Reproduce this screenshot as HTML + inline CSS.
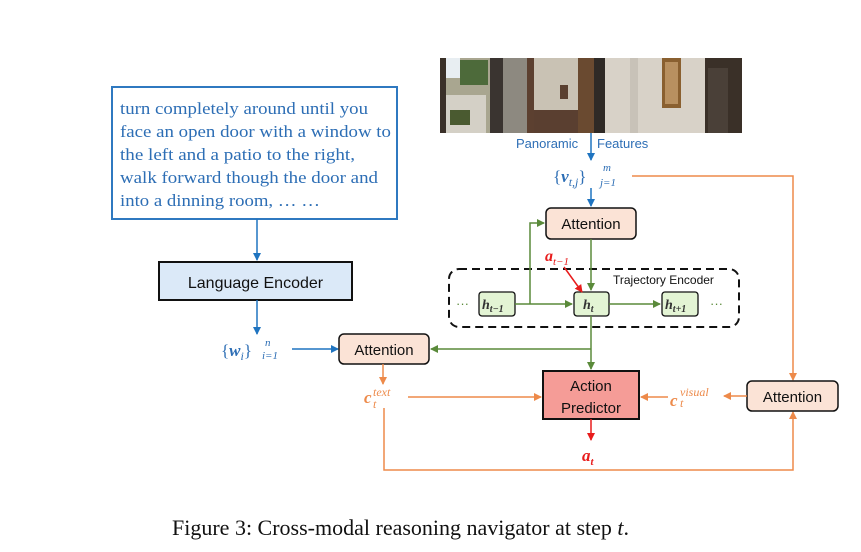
<!DOCTYPE html>
<html><head><meta charset="utf-8"><style>
html,body{margin:0;padding:0;background:#fff;}
svg{display:block;}
.sans{font-family:"Liberation Sans","DejaVu Sans",sans-serif;}
.serif{font-family:"Liberation Serif",serif;}
</style></head><body>
<svg width="861" height="552" viewBox="0 0 861 552" xmlns="http://www.w3.org/2000/svg">
<defs>
<marker id="ab" markerWidth="8" markerHeight="8" refX="7" refY="4" orient="auto" markerUnits="userSpaceOnUse"><path d="M0,0 L8,4 L0,8 z" fill="#1f74c0"/></marker>
<marker id="ag" markerWidth="8" markerHeight="8" refX="7" refY="4" orient="auto" markerUnits="userSpaceOnUse"><path d="M0,0 L8,4 L0,8 z" fill="#5a8a3a"/></marker>
<marker id="ao" markerWidth="8" markerHeight="8" refX="7" refY="4" orient="auto" markerUnits="userSpaceOnUse"><path d="M0,0 L8,4 L0,8 z" fill="#ed8a4a"/></marker>
<marker id="ar" markerWidth="8" markerHeight="8" refX="7" refY="4" orient="auto" markerUnits="userSpaceOnUse"><path d="M0,0 L8,4 L0,8 z" fill="#e81c1c"/></marker>
</defs>

<!-- instruction box -->
<rect x="112" y="87" width="285" height="132" fill="#fff" stroke="#2f79c0" stroke-width="2"/>
<g class="serif" font-size="17" fill="#2d6eb5">
<text x="120" y="114" textLength="248" lengthAdjust="spacingAndGlyphs">turn completely around until you</text>
<text x="120" y="137" textLength="271" lengthAdjust="spacingAndGlyphs">face an open door with a window to</text>
<text x="120" y="160" textLength="235" lengthAdjust="spacingAndGlyphs">the left and a patio to the right,</text>
<text x="120" y="183" textLength="258" lengthAdjust="spacingAndGlyphs">walk forward though the door and</text>
<text x="120" y="206" textLength="200" lengthAdjust="spacingAndGlyphs">into a dinning room, … …</text>
</g>
<line x1="257" y1="219" x2="257" y2="260" stroke="#1f74c0" stroke-width="1.5" marker-end="url(#ab)"/>

<!-- language encoder -->
<rect x="159" y="262" width="193" height="38" fill="#dbe9f8" stroke="#111" stroke-width="2"/>
<text x="255.5" y="288" class="sans" font-size="16" text-anchor="middle" fill="#111">Language Encoder</text>
<line x1="257" y1="300" x2="257" y2="334" stroke="#1f74c0" stroke-width="1.5" marker-end="url(#ab)"/>
<text x="221" y="356" class="serif" font-size="17" fill="#2d6eb5">{<tspan font-weight="bold" font-style="italic">w</tspan><tspan font-style="italic" font-size="12" dy="4">i</tspan><tspan dy="-4">}</tspan></text>
<text x="265" y="346" class="serif" font-size="11" font-style="italic" fill="#2d6eb5">n</text>
<text x="262" y="359" class="serif" font-size="11" font-style="italic" fill="#2d6eb5">i=1</text>
<line x1="292" y1="349" x2="338" y2="349" stroke="#1f74c0" stroke-width="1.5" marker-end="url(#ab)"/>

<!-- left attention -->
<rect x="339" y="334" width="90" height="30" rx="5" fill="#fbe3d6" stroke="#111" stroke-width="1.5"/>
<text x="384" y="355" class="sans" font-size="15" text-anchor="middle" fill="#111">Attention</text>

<!-- panorama -->
<g>
<rect x="440" y="58" width="302" height="75" fill="#8a7a68"/>
<rect x="440" y="58" width="6" height="75" fill="#3a3028"/>
<rect x="446" y="58" width="44" height="75" fill="#a9a690"/>
<rect x="446" y="58" width="14" height="20" fill="#e8eef2"/>
<rect x="460" y="60" width="28" height="25" fill="#4d6a3a"/>
<rect x="446" y="95" width="40" height="38" fill="#d4d0c6"/>
<rect x="450" y="110" width="20" height="15" fill="#4a5a30"/>
<rect x="490" y="58" width="13" height="75" fill="#3a3430"/>
<rect x="503" y="58" width="24" height="75" fill="#8d8980"/>
<rect x="527" y="58" width="7" height="75" fill="#5c4030"/>
<rect x="534" y="58" width="44" height="75" fill="#c9c2b4"/>
<rect x="534" y="110" width="44" height="23" fill="#5a3f30"/>
<rect x="560" y="85" width="8" height="14" fill="#5a4030"/>
<rect x="578" y="58" width="16" height="75" fill="#6a4a30"/>
<rect x="594" y="58" width="11" height="75" fill="#2f2a26"/>
<rect x="605" y="58" width="100" height="75" fill="#d8d2c8"/>
<rect x="630" y="58" width="8" height="75" fill="#c8c2b8"/>
<rect x="662" y="58" width="19" height="50" fill="#8a6030"/>
<rect x="665" y="62" width="13" height="42" fill="#b89060"/>
<rect x="705" y="58" width="37" height="75" fill="#3a3028"/>
<rect x="708" y="68" width="20" height="65" fill="#4a4038"/>
</g>
<text x="516" y="148" class="sans" font-size="13" fill="#2d6eb5">Panoramic</text>
<text x="597" y="148" class="sans" font-size="13" fill="#2d6eb5">Features</text>
<line x1="591" y1="133" x2="591" y2="160" stroke="#1f74c0" stroke-width="1.5" marker-end="url(#ab)"/>
<text x="553" y="182" class="serif" font-size="17" fill="#2d6eb5">{<tspan font-weight="bold" font-style="italic">v</tspan><tspan font-style="italic" font-size="12" dy="4">t,j</tspan><tspan dy="-4">}</tspan></text>
<text x="603" y="171" class="serif" font-size="11" font-style="italic" fill="#2d6eb5">m</text>
<text x="600" y="186" class="serif" font-size="11" font-style="italic" fill="#2d6eb5">j=1</text>
<polyline points="632,176 793,176 793,380" fill="none" stroke="#ed8a4a" stroke-width="1.5" marker-end="url(#ao)"/>
<line x1="591" y1="188" x2="591" y2="206" stroke="#1f74c0" stroke-width="1.5" marker-end="url(#ab)"/>

<!-- top attention -->
<rect x="546" y="208" width="90" height="31" rx="5" fill="#fbe3d6" stroke="#111" stroke-width="1.5"/>
<text x="591" y="229" class="sans" font-size="15" text-anchor="middle" fill="#111">Attention</text>

<!-- trajectory encoder -->
<rect x="449" y="269" width="290" height="58" rx="10" fill="none" stroke="#111" stroke-width="2" stroke-dasharray="8,5"/>
<text x="613" y="284" class="sans" font-size="12" fill="#111">Trajectory Encoder</text>
<text x="456" y="308" class="sans" font-size="13" fill="#5a8a3a">···</text>
<text x="710" y="308" class="sans" font-size="13" fill="#5a8a3a">···</text>
<rect x="479" y="292" width="36" height="24" rx="3" fill="#e3f4d4" stroke="#111" stroke-width="1.3"/>
<rect x="574" y="292" width="35" height="24" rx="3" fill="#e3f4d4" stroke="#111" stroke-width="1.3"/>
<rect x="662" y="292" width="36" height="24" rx="3" fill="#e3f4d4" stroke="#111" stroke-width="1.3"/>
<text x="482" y="309" class="serif" font-size="14" font-weight="bold" font-style="italic" fill="#333">h<tspan font-size="10" dy="3">t−1</tspan></text>
<text x="583" y="309" class="serif" font-size="14" font-weight="bold" font-style="italic" fill="#333">h<tspan font-size="10" dy="3">t</tspan></text>
<text x="665" y="309" class="serif" font-size="14" font-weight="bold" font-style="italic" fill="#333">h<tspan font-size="10" dy="3">t+1</tspan></text>
<line x1="515" y1="304" x2="572" y2="304" stroke="#5a8a3a" stroke-width="1.5" marker-end="url(#ag)"/>
<line x1="609" y1="304" x2="660" y2="304" stroke="#5a8a3a" stroke-width="1.5" marker-end="url(#ag)"/>
<polyline points="530,304 530,223 544,223" fill="none" stroke="#5a8a3a" stroke-width="1.5" marker-end="url(#ag)"/>
<line x1="591" y1="239" x2="591" y2="290" stroke="#5a8a3a" stroke-width="1.5" marker-end="url(#ag)"/>
<text x="545" y="261" class="serif" font-size="16" font-weight="bold" font-style="italic" fill="#e81c1c">a<tspan font-size="11" font-weight="normal" dy="4">t−1</tspan></text>
<line x1="564" y1="267" x2="582" y2="292" stroke="#e81c1c" stroke-width="1.5" marker-end="url(#ar)"/>
<line x1="591" y1="316" x2="591" y2="369" stroke="#5a8a3a" stroke-width="1.5" marker-end="url(#ag)"/>
<line x1="591" y1="349" x2="431" y2="349" stroke="#5a8a3a" stroke-width="1.5" marker-end="url(#ag)"/>

<!-- action predictor -->
<rect x="543" y="371" width="96" height="48" fill="#f59c97" stroke="#111" stroke-width="2"/>
<text x="591" y="391" class="sans" font-size="15" text-anchor="middle" fill="#111">Action</text>
<text x="591" y="413" class="sans" font-size="15" text-anchor="middle" fill="#111">Predictor</text>
<line x1="591" y1="419" x2="591" y2="440" stroke="#e81c1c" stroke-width="1.5" marker-end="url(#ar)"/>
<text x="582" y="461" class="serif" font-size="17" font-weight="bold" font-style="italic" fill="#e81c1c">a<tspan font-size="11" dy="4">t</tspan></text>

<!-- text context -->
<line x1="383" y1="364" x2="383" y2="384" stroke="#ed8a4a" stroke-width="1.5" marker-end="url(#ao)"/>
<text x="364" y="403" class="serif" font-size="17" font-weight="bold" font-style="italic" fill="#ed8a4a">c</text>
<text x="373" y="396" class="serif" font-size="12" font-style="italic" fill="#ed8a4a">text</text>
<text x="373" y="408" class="serif" font-size="12" font-style="italic" fill="#ed8a4a">t</text>
<line x1="408" y1="397" x2="541" y2="397" stroke="#ed8a4a" stroke-width="1.5" marker-end="url(#ao)"/>
<polyline points="384,408 384,470 793,470 793,412" fill="none" stroke="#ed8a4a" stroke-width="1.5" marker-end="url(#ao)"/>

<!-- right attention -->
<rect x="747" y="381" width="91" height="30" rx="5" fill="#fbe3d6" stroke="#111" stroke-width="1.5"/>
<text x="792.5" y="402" class="sans" font-size="15" text-anchor="middle" fill="#111">Attention</text>
<line x1="747" y1="396" x2="724" y2="396" stroke="#ed8a4a" stroke-width="1.5" marker-end="url(#ao)"/>
<text x="670" y="406" class="serif" font-size="17" font-weight="bold" font-style="italic" fill="#ed8a4a">c</text>
<text x="680" y="396" class="serif" font-size="12" font-style="italic" fill="#ed8a4a">visual</text>
<text x="680" y="407" class="serif" font-size="12" font-style="italic" fill="#ed8a4a">t</text>
<line x1="668" y1="397" x2="641" y2="397" stroke="#ed8a4a" stroke-width="1.5" marker-end="url(#ao)"/>

<!-- caption -->
<text x="172" y="535" class="serif" font-size="22" fill="#111">Figure 3: Cross-modal reasoning navigator at step <tspan font-style="italic">t</tspan>.</text>
</svg>
</body></html>
